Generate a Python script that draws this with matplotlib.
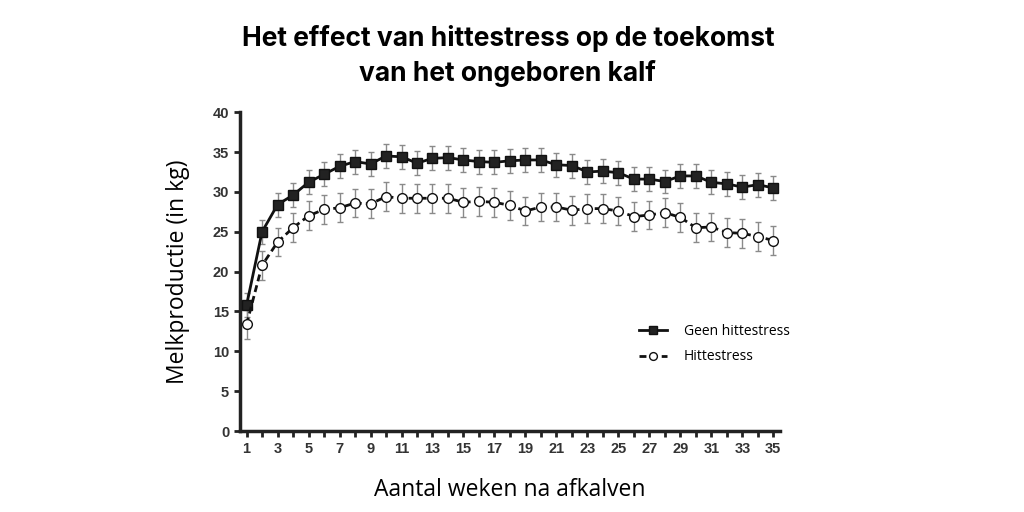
import numpy as np
import matplotlib.pyplot as plt

weeks = list(range(1, 36))

geen_hittestress = [15.8, 25.0, 28.4, 29.6, 31.2, 32.2, 33.2, 33.8, 33.5, 34.5,
                    34.4, 33.6, 34.2, 34.3, 34.0, 33.8, 33.7, 33.9, 34.0, 34.0,
                    33.4, 33.3, 32.5, 32.6, 32.4, 31.6, 31.6, 31.3, 32.0, 32.0,
                    31.2, 31.0, 30.6, 30.9, 30.5]
geen_err = [1.5] * 35

hittestress = [13.4, 20.8, 23.7, 25.5, 27.0, 27.8, 28.0, 28.6, 28.5, 29.4,
               29.2, 29.2, 29.2, 29.2, 28.7, 28.8, 28.7, 28.3, 27.6, 28.1,
               28.1, 27.7, 27.9, 27.9, 27.6, 26.9, 27.1, 27.4, 26.8, 25.5,
               25.6, 24.9, 24.8, 24.4, 23.9]
hitte_err = [1.8] * 35

fig = plt.figure(figsize=(10.24, 5.12), dpi=100)
ax = fig.add_axes([0.234, 0.158, 0.528, 0.623])

ax.errorbar(weeks, geen_hittestress, yerr=geen_err, fmt='none', ecolor='#8a8a8a',
            elinewidth=1, capsize=2.5, zorder=1)
ax.errorbar(weeks, hittestress, yerr=hitte_err, fmt='none', ecolor='#8a8a8a',
            elinewidth=1, capsize=2.5, zorder=1)
ax.plot(weeks, geen_hittestress, color='#111111', lw=2, marker='s', ms=7,
        mfc='#222222', mec='#111111', label='Geen hittestress', zorder=3)
ax.plot(weeks, hittestress, color='#111111', lw=2, ls=(0, (2.5, 1.5)), marker='o', ms=7,
        mfc='white', mec='#111111', mew=1, label='Hittestress', zorder=3)

ax.set_xlim(0.55, 35.45)
ax.set_ylim(0, 40)
ax.set_xticks(weeks)
ax.set_xticklabels([str(w) if w % 2 == 1 else '' for w in weeks])
ax.set_yticks(range(0, 41, 5))
for lab in ax.get_xticklabels() + ax.get_yticklabels():
    lab.set_fontweight('bold')
    lab.set_family('Liberation Sans')
    lab.set_color('#333333')
ax.tick_params(axis='both', labelsize=10.5, width=2, length=4, color='#222222', direction='out')
for s in ['top', 'right']:
    ax.spines[s].set_visible(False)
for s in ['left', 'bottom']:
    ax.spines[s].set_linewidth(2.5)
    ax.spines[s].set_color('#222222')

ax.set_ylabel('Melkproductie (in kg)', fontsize=16.5, family='Open Sans', labelpad=16)
ax.set_xlabel('Aantal weken na afkalven', fontsize=16.5, family='Open Sans', labelpad=16)

leg = ax.legend(loc='lower right', bbox_to_anchor=(1.04, 0.17), frameon=False,
                prop={'family': 'Open Sans', 'size': 10}, handlelength=2,
                handletextpad=1.2, markerscale=0.8, labelspacing=0.75)

fig.text(0.496, 0.925, 'Het effect van hittestress op de toekomst', ha='center', va='center',
         fontsize=19, fontweight='bold', family='Inter')
fig.text(0.496, 0.857, 'van het ongeboren kalf', ha='center', va='center',
         fontsize=19, fontweight='bold', family='Inter')

fig.savefig('out.png', dpi=100, facecolor='white')
